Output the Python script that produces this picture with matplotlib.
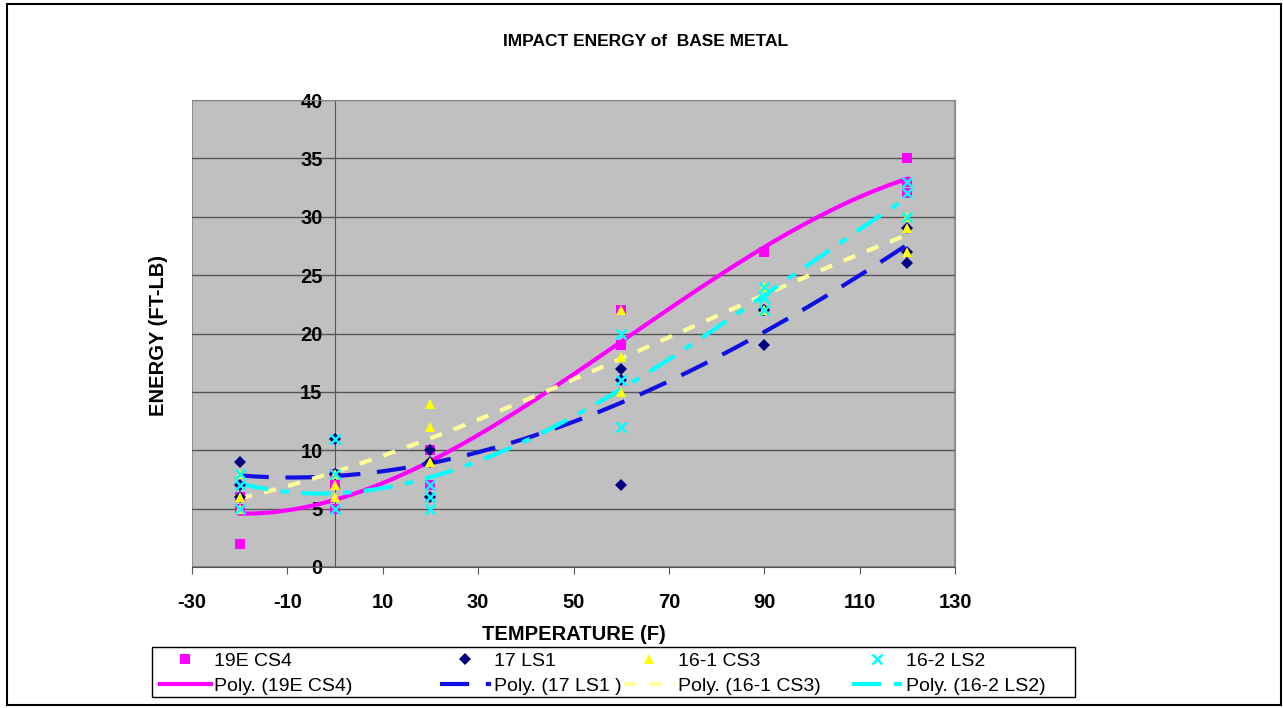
import numpy as np
import matplotlib
matplotlib.use('Agg')
import matplotlib.pyplot as plt
from matplotlib.lines import Line2D
from matplotlib.patches import Rectangle

plt.rcParams.update({'font.family': ['Liberation Sans', 'DejaVu Sans'],
                     'axes.unicode_minus': False})

# test temperatures (F), three specimens each
temps = [-20, -20, -20, 0, 0, 0, 20, 20, 20, 60, 60, 60, 90, 90, 90, 120, 120, 120]

e_19e_cs4 = [2, 5, 6, 5, 7, 8, 7, 7, 10, 19, 19, 22, 27, 27, 27, 32, 33, 35]
e_17_ls1 = [9, 6, 7, 11, 8, 8, 10, 6, 9, 17, 16, 7, 22, 19, 22, 26, 27, 29]
e_16_1_cs3 = [8, 6, 5, 8, 7, 6, 14, 12, 9, 22, 18, 15, 22, 22, 24, 27, 29, 30]
e_16_2_ls2 = [7, 5, 8, 11, 8, 5, 7, 6, 5, 20, 12, 16, 23, 24, 22, 33, 30, 32]

series_names = ['19E CS4', '17 LS1', '16-1 CS3', '16-2 LS2']
trend_names = ['Poly. (19E CS4)', 'Poly. (17 LS1 )', 'Poly. (16-1 CS3)', 'Poly. (16-2 LS2)']

x_ticks = [-30, -10, 10, 30, 50, 70, 90, 110, 130]
y_ticks = [0, 5, 10, 15, 20, 25, 30, 35, 40]

series = [e_19e_cs4, e_17_ls1, e_16_1_cs3, e_16_2_ls2]
markers = ['s', 'D', '^', 'x']
mcolors = ['#FF00FF', '#000080', '#FFFF00', '#00FFFF']
msizes = [7, 6, 7, 7]
tcolors = ['#FF00FF', '#1010E0', '#FFFF99', '#00FFFF']
tstyles = ['-', (0, (7, 4)), (0, (3, 3)), (0, (7, 3, 2, 3))]

W, H = 1283, 708
fig = plt.figure(figsize=(W / 100, H / 100), dpi=100)
ax = fig.add_axes([192 / W, 1 - 567 / H, (955 - 192) / W, (567 - 100) / H])
ax.set_facecolor('#C0C0C0')

x = np.array(temps, dtype=float)
xs = np.linspace(x.min(), x.max(), 200)
handles_m, handles_t = [], []
for i, y in enumerate(series):
    c = np.polyfit(x, np.array(y, dtype=float), 3)
    ax.plot(xs, np.polyval(c, xs), color=tcolors[i], ls=tstyles[i], lw=3, zorder=3)
for i, y in enumerate(series):
    mew = 1.8 if markers[i] == 'x' else 0
    ax.plot(temps, y, ls='none', marker=markers[i], color=mcolors[i],
            ms=msizes[i], mew=mew, zorder=4)
    handles_m.append(Line2D([], [], ls='none', marker=markers[i], color=mcolors[i],
                            ms=msizes[i], mew=mew))
    handles_t.append(Line2D([], [], color=tcolors[i], ls=tstyles[i], lw=3))

ax.set_xlim(-30, 130)
ax.set_ylim(0, 40)
ax.set_xticks(x_ticks)
ax.set_yticks(y_ticks)
ax.grid(axis='y', color='#555555', lw=1)
ax.set_axisbelow(True)

for s in ['top', 'right']:
    ax.spines[s].set_color('#888888')
ax.spines['left'].set_position(('data', 0))
ax.spines['left'].set_color('#555555')
ax.spines['bottom'].set_color('#555555')
ax.add_patch(Rectangle((0, 0), 1, 1, transform=ax.transAxes, fill=False,
                       ec='#888888', lw=1.2, zorder=0.5))

ax.tick_params(axis='x', direction='out', length=5, color='#555555', pad=14,
               labelsize=14.5)
ax.tick_params(axis='y', length=0, pad=9, labelsize=14.5)
for lab in ax.get_xticklabels() + ax.get_yticklabels():
    lab.set_fontweight('bold')

fig.text(646 / W, 1 - 42 / H, 'IMPACT ENERGY of  BASE METAL', ha='center',
         va='center', fontsize=12.5, fontweight='bold')
fig.text(574 / W, 1 - 634 / H, 'TEMPERATURE (F)', ha='center', va='center',
         fontsize=14.5, fontweight='bold')
fig.text(158 / W, 1 - 335 / H, 'ENERGY (FT-LB)', ha='center', va='center',
         rotation=90, fontsize=14.5, fontweight='bold')

# legend: one column per series, inside a shared frame
col_left = [160, 440, 624, 852]
for i in range(4):
    leg = fig.legend([handles_m[i], handles_t[i]], [series_names[i], trend_names[i]],
                     loc='upper left', bbox_to_anchor=(col_left[i] / W, 1 - 652 / H),
                     fontsize=14, frameon=False, handlelength=2.6,
                     handletextpad=0.2, labelspacing=0.4, borderpad=0,
                     borderaxespad=0, numpoints=1)
fig.patches.append(Rectangle((152 / W, 1 - 697 / H), 923 / W, 50 / H,
                             transform=fig.transFigure, fill=False,
                             ec='black', lw=1))

fig.patches.append(Rectangle((7 / W, 1 - 705 / H), 1274 / W, 701 / H,
                             transform=fig.transFigure, fill=False,
                             ec='black', lw=1.5))

fig.savefig('out.png', dpi=100)
